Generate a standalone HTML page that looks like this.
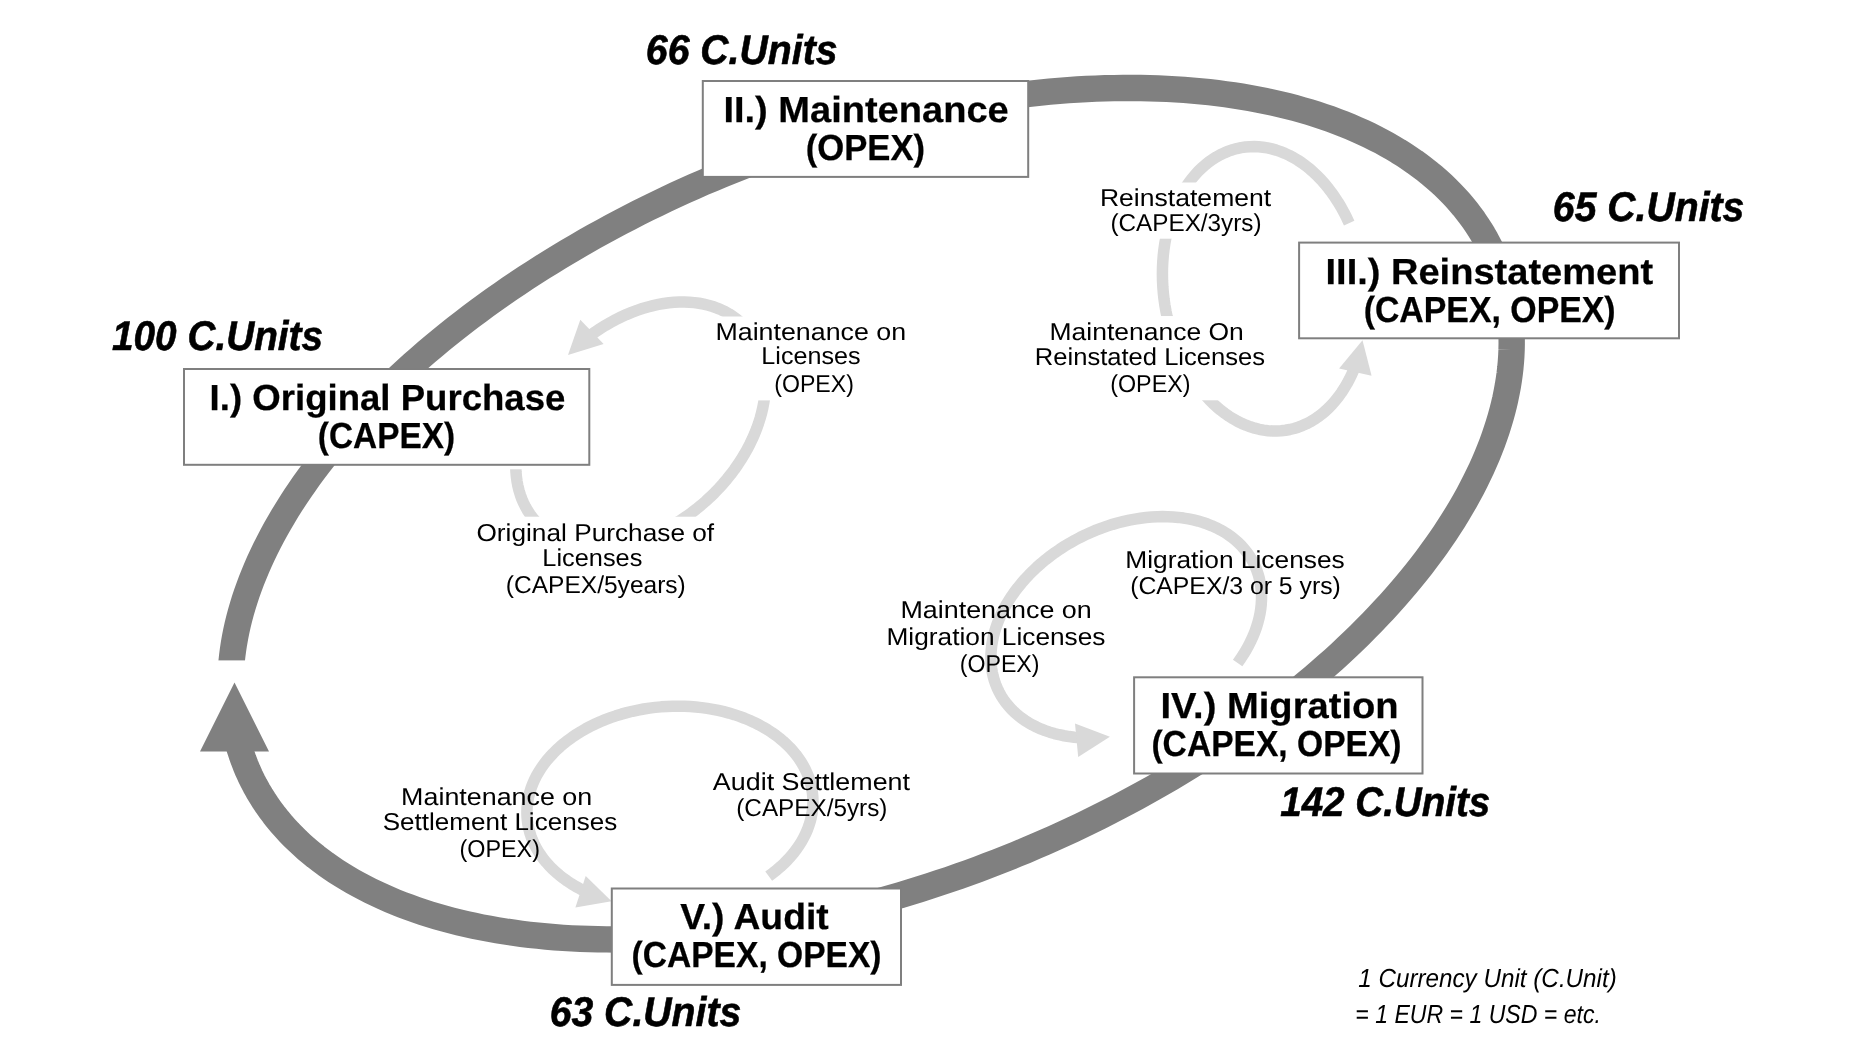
<!DOCTYPE html>
<html lang="en"><head><meta charset="utf-8"><title>License cost cycle</title>
<style>
html,body{margin:0;padding:0;background:#fff;}
body{width:1860px;height:1061px;overflow:hidden;}
svg{display:block;filter:grayscale(1);}
text{font-family:"Liberation Sans",sans-serif;fill:#000;text-rendering:geometricPrecision;}
.b{font-weight:bold;stroke:#000;stroke-width:0.25px;}
.bi{font-weight:bold;font-style:italic;stroke:#000;stroke-width:0.6px;}
.i{font-style:italic;}
</style></head><body>
<svg width="1860" height="1061" viewBox="0 0 1860 1061">
<rect width="1860" height="1061" fill="#fff"/>
<path d="M231.07 667.99 L231.57 661.94 L232.22 655.86 L233.02 649.74 L233.96 643.59 L235.05 637.41 L236.29 631.20 L237.67 624.96 L239.20 618.70 L240.88 612.42 L242.70 606.11 L244.67 599.78 L246.78 593.43 L249.04 587.06 L251.44 580.67 L253.98 574.27 L256.67 567.86 L259.50 561.43 L262.47 554.99 L265.58 548.54 L268.83 542.09 L272.22 535.63 L275.75 529.16 L279.41 522.69 L283.22 516.21 L287.15 509.74 L291.23 503.27 L295.44 496.80 L299.78 490.33 L304.25 483.87 L308.86 477.41 L313.59 470.97 L318.45 464.53 L323.44 458.11 L328.56 451.70 L333.80 445.30 L339.17 438.92 L344.66 432.55 L350.27 426.21 L356.01 419.88 L361.86 413.58 L367.83 407.30 L373.91 401.04 L380.11 394.81 L386.43 388.61 L392.85 382.43 L399.39 376.29 L406.04 370.18 L412.79 364.10 L419.65 358.06 L426.61 352.05 L433.68 346.08 L440.85 340.15 L448.11 334.26 L455.48 328.41 L462.94 322.60 L470.50 316.84 L478.14 311.12 L485.88 305.45 L493.71 299.83 L501.63 294.25 L509.63 288.73 L517.71 283.26 L525.88 277.84 L534.12 272.48 L542.45 267.17 L550.85 261.93 L559.32 256.73 L567.87 251.60 L576.48 246.53 L585.17 241.52 L593.92 236.57 L602.73 231.69 L611.61 226.87 L620.54 222.12 L629.54 217.44 L638.59 212.82 L647.69 208.28 L656.85 203.80 L666.05 199.40 L675.30 195.07 L684.60 190.81 L693.94 186.63 L703.32 182.52 L712.74 178.49 L722.20 174.54 L731.69 170.67 L741.22 166.87 L750.77 163.16 L760.35 159.52 L769.96 155.97 L779.59 152.50 L789.24 149.12 L798.91 145.82 L808.60 142.60 L818.30 139.47 L828.01 136.43 L837.74 133.47 L847.47 130.60 L857.21 127.82 L866.95 125.13 L876.69 122.53 L886.43 120.02 L896.17 117.60 L905.90 115.27 L915.62 113.03 L925.33 110.89 L935.03 108.84 L944.72 106.89 L954.38 105.02 L964.03 103.26 L973.66 101.58 L983.26 100.00 L992.84 98.52 L1002.39 97.14 L1011.91 95.85 L1021.40 94.65 L1030.85 93.56 L1040.26 92.56 L1049.64 91.66 L1058.97 90.85 L1068.26 90.15 L1077.51 89.54 L1086.71 89.03 L1095.85 88.62 L1104.95 88.30 L1113.99 88.09 L1122.98 87.97 L1131.90 87.95 L1140.77 88.03 L1149.58 88.21 L1158.32 88.48 L1166.99 88.86 L1175.60 89.33 L1184.13 89.90 L1192.59 90.57 L1200.98 91.34 L1209.29 92.21 L1217.53 93.17 L1225.68 94.23 L1233.75 95.38 L1241.74 96.64 L1249.64 97.99 L1257.46 99.43 L1265.18 100.97 L1272.82 102.61 L1280.36 104.34 L1287.80 106.17 L1295.15 108.09 L1302.41 110.10 L1309.56 112.21 L1316.61 114.41 L1323.56 116.71 L1330.40 119.09 L1337.14 121.57 L1343.77 124.13 L1350.29 126.79 L1356.70 129.54 L1362.99 132.37 L1369.18 135.30 L1375.25 138.31 L1381.20 141.41 L1387.03 144.59 L1392.74 147.86 L1398.34 151.21 L1403.81 154.65 L1409.16 158.17 L1414.38 161.77 L1419.48 165.46 L1424.45 169.22 L1429.30 173.07 L1434.01 176.99 L1438.60 180.99 L1443.05 185.07 L1447.37 189.22 L1451.56 193.45 L1455.61 197.75 L1459.53 202.13 L1463.31 206.58 L1466.96 211.10 L1470.47 215.68 L1473.83 220.34 L1477.06 225.07 L1480.15 229.86 L1483.10 234.72 L1485.91 239.64 L1488.57 244.63 L1491.10 249.68 L1493.48 254.78 L1495.71 259.95 L1497.80 265.18 L1499.75 270.47 L1501.55 275.81 L1503.20 281.20 L1504.71 286.65 L1506.07 292.16 L1507.29 297.71 L1508.35 303.31 L1509.27 308.97 L1510.05 314.67 L1510.67 320.41 L1511.15 326.20 L1511.48 332.04 L1511.66 337.91 L1511.69 343.83 L1511.58 349.79 L1511.32 355.78 L1510.90 361.81 L1510.35 367.87 L1509.64 373.97 L1508.78 380.11 L1507.78 386.27 L1506.63 392.46 L1505.34 398.68 L1503.89 404.93 L1502.30 411.20 L1500.57 417.49 L1498.69 423.81 L1496.66 430.15 L1494.49 436.51 L1492.18 442.88 L1489.72 449.27 L1487.12 455.68 L1484.37 462.10 L1481.49 468.53 L1478.46 474.97 L1475.30 481.42 L1471.99 487.88 L1468.54 494.35 L1464.96 500.82 L1461.24 507.29 L1457.38 513.76 L1453.39 520.24 L1449.26 526.71 L1445.00 533.18 L1440.60 539.64 L1436.08 546.10 L1431.42 552.55 L1426.63 559.00 L1421.72 565.43 L1416.68 571.85 L1411.51 578.25 L1406.22 584.64 L1400.80 591.02 L1395.26 597.38 L1389.60 603.71 L1383.82 610.03 L1377.92 616.33 L1371.90 622.60 L1365.77 628.84 L1359.53 635.06 L1353.17 641.25 L1346.70 647.41 L1340.12 653.55 L1333.43 659.64 L1326.63 665.71 L1319.73 671.74 L1312.72 677.73 L1305.62 683.69 L1298.41 689.60 L1291.10 695.48 L1283.70 701.31 L1276.20 707.10 L1268.61 712.84 L1260.92 718.54 L1253.15 724.19 L1245.28 729.80 L1237.33 735.35 L1229.30 740.85 L1221.18 746.30 L1212.98 751.69 L1204.71 757.03 L1196.35 762.32 L1187.92 767.54 L1179.42 772.71 L1170.85 777.82 L1162.20 782.87 L1153.49 787.85 L1144.72 792.77 L1135.88 797.63 L1126.98 802.42 L1118.02 807.14 L1109.00 811.80 L1099.93 816.39 L1090.80 820.91 L1081.63 825.35 L1072.40 829.73 L1063.13 834.03 L1053.82 838.25 L1044.46 842.41 L1035.06 846.48 L1025.63 850.48 L1016.16 854.40 L1006.65 858.25 L997.11 862.01 L987.55 865.69 L977.96 869.29 L968.34 872.81 L958.70 876.25 L949.04 879.60 L939.36 882.86 L929.67 886.05 L919.96 889.14 L910.24 892.15 L900.52 895.07 L890.78 897.91 L881.04 900.65 L871.30 903.30 L861.56 905.87 L851.82 908.34 L842.09 910.73 L832.36 913.02 L822.64 915.22 L812.93 917.32 L803.24 919.33 L793.56 921.25 L783.90 923.08 L774.26 924.81 L764.64 926.44 L755.05 927.98 L745.48 929.43 L735.95 930.77 L726.44 932.02 L716.97 933.18 L707.53 934.24 L698.13 935.20 L688.77 936.06 L679.45 936.82 L670.18 937.49 L660.95 938.06 L651.78 938.53 L642.65 938.90 L633.58 939.18 L624.56 939.35 L615.59 939.43 L606.69 939.41 L597.85 939.29 L589.07 939.07 L580.36 938.76 L571.71 938.34 L563.13 937.83 L554.63 937.22 L546.19 936.51 L537.83 935.70 L529.55 934.80 L521.35 933.80 L513.23 932.70 L505.19 931.51 L497.24 930.21 L489.37 928.83 L481.59 927.34 L473.90 925.76 L466.31 924.09 L458.80 922.32 L451.40 920.45 L444.08 918.49 L436.87 916.44 L429.76 914.30 L422.75 912.06 L415.84 909.73 L409.04 907.31 L402.35 904.79 L395.76 902.19 L389.29 899.50 L382.92 896.71 L376.67 893.84 L370.53 890.89 L364.51 887.84 L358.61 884.71 L352.82 881.49 L347.16 878.19 L341.61 874.80 L336.19 871.33 L330.89 867.77 L325.72 864.14 L320.67 860.42 L315.75 856.63 L310.96 852.75 L306.29 848.80 L301.76 844.76 L297.36 840.66 L293.09 836.47 L288.96 832.21 L284.96 827.88 L281.10 823.48 L277.37 819.00 L273.78 814.45 L270.33 809.83 L267.01 805.15 L263.84 800.40 L260.81 795.58 L257.91 790.69 L255.16 785.75 L252.56 780.73 L250.09 775.66 L247.77 770.53 L245.59 765.34 L243.56 760.09 L241.67 754.78 L239.93 749.41 L238.34 744.00" fill="none" stroke="#808080" stroke-width="26.4" stroke-linejoin="round"/>
<rect x="195" y="660.4" width="90" height="90.2" fill="#fff"/>
<polygon points="234.5,682.4 200,751.6 269,751.6" fill="#808080"/>
<path d="M515.83 461.87 L515.78 466.84 L515.96 471.73 L516.37 476.54 L517.01 481.24 L517.88 485.84 L518.98 490.33 L520.30 494.69 L521.84 498.93 L523.60 503.03 L525.58 506.98 L527.77 510.78 L530.17 514.42 L532.78 517.89 L535.58 521.19 L538.58 524.31 L541.76 527.25 L545.13 529.99 L548.67 532.55 L552.39 534.90 L556.27 537.04 L560.30 538.98 L564.48 540.71 L568.80 542.22 L573.26 543.51 L577.84 544.59 L582.54 545.44 L587.34 546.06 L592.24 546.47 L597.23 546.64 L602.30 546.59 L607.45 546.32 L612.65 545.82 L617.90 545.09 L623.20 544.14 L628.53 542.97 L633.88 541.58 L639.25 539.98 L644.61 538.16 L649.97 536.13 L655.31 533.89 L660.63 531.45 L665.91 528.81 L671.14 525.98 L676.31 522.96 L681.42 519.76 L686.45 516.39 L691.40 512.84 L696.26 509.13 L701.01 505.26 L705.65 501.25 L710.17 497.09 L714.56 492.79 L718.82 488.37 L722.93 483.84 L726.88 479.19 L730.68 474.44 L734.32 469.60 L737.77 464.67 L741.05 459.67 L744.15 454.60 L747.05 449.48 L749.76 444.31 L752.26 439.11 L754.56 433.88 L756.65 428.63 L758.52 423.37 L760.18 418.11 L761.61 412.87 L762.82 407.64 L763.81 402.45 L764.56 397.30 L765.09 392.20 L765.39 387.15 L765.46 382.18 L765.30 377.28 L764.90 372.47 L764.28 367.76 L763.43 363.15 L762.35 358.65 L761.04 354.28 L759.52 350.03 L757.77 345.93 L755.81 341.96 L753.64 338.15 L751.25 334.50 L748.66 331.01 L745.87 327.70 L742.89 324.57 L739.72 321.62 L736.37 318.86 L732.83 316.29 L729.13 313.92 L725.27 311.76 L721.24 309.81 L717.07 308.07 L712.76 306.54 L708.31 305.23 L703.74 304.14 L699.06 303.27 L694.26 302.63 L689.37 302.21 L684.38 302.02 L679.32 302.05 L674.18 302.31 L668.98 302.79 L663.73 303.50 L658.43 304.43 L653.11 305.59 L647.76 306.96 L642.39 308.55 L637.03 310.35 L631.67 312.37 L626.32 314.59 L621.01 317.01 L615.72 319.64 L610.49 322.45 L605.31 325.46 L600.20 328.64 L595.16 332.01 L590.20 335.54" fill="none" stroke="#d9d9d9" stroke-width="11.5" stroke-linejoin="round"/>
<polygon points="568.0,355.0 580.3,319.8 603.6,343.9" fill="#d9d9d9"/>
<rect x="500" y="455" width="40" height="14.3" fill="#fff"/>
<path d="M1349.17 223.10 L1346.65 217.70 L1343.97 212.42 L1341.14 207.30 L1338.17 202.32 L1335.06 197.51 L1331.81 192.87 L1328.44 188.41 L1324.95 184.14 L1321.35 180.06 L1317.63 176.19 L1313.82 172.54 L1309.92 169.10 L1305.92 165.88 L1301.85 162.90 L1297.71 160.15 L1293.51 157.65 L1289.25 155.39 L1284.95 153.38 L1280.60 151.63 L1276.23 150.13 L1271.83 148.90 L1267.42 147.92 L1263.00 147.22 L1258.59 146.78 L1254.18 146.60 L1249.80 146.69 L1245.44 147.05 L1241.12 147.68 L1236.84 148.57 L1232.61 149.73 L1228.45 151.15 L1224.35 152.82 L1220.32 154.75 L1216.38 156.94 L1212.53 159.37 L1208.77 162.04 L1205.12 164.96 L1201.58 168.10 L1198.16 171.47 L1194.86 175.07 L1191.69 178.87 L1188.66 182.89 L1185.78 187.10 L1183.04 191.50 L1180.45 196.09 L1178.02 200.85 L1175.75 205.78 L1173.65 210.86 L1171.72 216.09 L1169.96 221.45 L1168.38 226.95 L1166.98 232.55 L1165.76 238.27 L1164.73 244.08 L1163.89 249.97 L1163.23 255.94 L1162.76 261.96 L1162.49 268.04 L1162.41 274.16 L1162.51 280.31 L1162.81 286.47 L1163.30 292.63 L1163.98 298.79 L1164.85 304.93 L1165.91 311.04 L1167.15 317.11 L1168.57 323.12 L1170.17 329.07 L1171.95 334.95 L1173.90 340.73 L1176.03 346.42 L1178.32 352.00 L1180.77 357.47 L1183.37 362.80 L1186.13 368.00 L1189.04 373.04 L1192.09 377.93 L1195.27 382.65 L1198.58 387.19 L1202.02 391.55 L1205.58 395.72 L1209.24 399.68 L1213.01 403.44 L1216.87 406.98 L1220.82 410.30 L1224.86 413.39 L1228.97 416.25 L1233.14 418.86 L1237.38 421.24 L1241.66 423.36 L1245.99 425.23 L1250.35 426.85 L1254.74 428.20 L1259.15 429.29 L1263.56 430.12 L1267.98 430.69 L1272.39 430.98 L1276.78 431.01 L1281.15 430.78 L1285.49 430.27 L1289.79 429.50 L1294.04 428.47 L1298.24 427.17 L1302.37 425.61 L1306.43 423.80 L1310.41 421.73 L1314.31 419.41 L1318.11 416.85 L1321.81 414.04 L1325.40 411.00 L1328.88 407.74 L1332.23 404.24 L1335.46 400.53 L1338.55 396.61 L1341.51 392.49 L1344.32 388.18 L1346.98 383.67 L1349.48 378.99 L1351.82 374.14 L1354.00 369.13" fill="none" stroke="#d9d9d9" stroke-width="11.5" stroke-linejoin="round"/>
<polygon points="1362.5,340.2 1339.1,368.5 1371.6,375.8" fill="#d9d9d9"/>
<path d="M1237.63 662.98 L1240.71 658.61 L1243.59 654.20 L1246.28 649.74 L1248.76 645.23 L1251.03 640.70 L1253.08 636.15 L1254.92 631.58 L1256.54 627.00 L1257.93 622.43 L1259.10 617.86 L1260.05 613.31 L1260.76 608.78 L1261.24 604.28 L1261.50 599.83 L1261.52 595.42 L1261.31 591.06 L1260.87 586.77 L1260.19 582.54 L1259.29 578.40 L1258.17 574.33 L1256.81 570.36 L1255.23 566.48 L1253.44 562.71 L1251.42 559.05 L1249.19 555.51 L1246.75 552.08 L1244.10 548.79 L1241.26 545.63 L1238.21 542.61 L1234.97 539.74 L1231.55 537.01 L1227.95 534.45 L1224.17 532.03 L1220.23 529.79 L1216.12 527.70 L1211.86 525.79 L1207.46 524.06 L1202.91 522.50 L1198.24 521.11 L1193.44 519.91 L1188.53 518.90 L1183.51 518.07 L1178.39 517.42 L1173.18 516.97 L1167.89 516.70 L1162.53 516.62 L1157.11 516.74 L1151.64 517.04 L1146.12 517.53 L1140.57 518.20 L1134.99 519.07 L1129.40 520.12 L1123.81 521.35 L1118.21 522.76 L1112.63 524.35 L1107.08 526.12 L1101.56 528.06 L1096.08 530.17 L1090.65 532.45 L1085.28 534.89 L1079.98 537.49 L1074.76 540.24 L1069.63 543.14 L1064.60 546.18 L1059.67 549.37 L1054.85 552.68 L1050.16 556.13 L1045.60 559.69 L1041.17 563.37 L1036.89 567.16 L1032.77 571.06 L1028.80 575.05 L1025.00 579.13 L1021.37 583.29 L1017.92 587.53 L1014.66 591.83 L1011.59 596.20 L1008.72 600.61 L1006.04 605.08 L1003.57 609.58 L1001.31 614.11 L999.27 618.67 L997.44 623.24 L995.83 627.82 L994.45 632.39 L993.29 636.96 L992.36 641.51 L991.65 646.04 L991.18 650.53 L990.94 654.99 L990.93 659.39 L991.15 663.75 L991.60 668.04 L992.28 672.26 L993.20 676.40 L994.33 680.46 L995.70 684.43 L997.29 688.30 L999.10 692.07 L1001.12 695.72 L1003.36 699.26 L1005.81 702.68 L1008.47 705.96 L1011.33 709.12 L1014.38 712.13 L1017.62 715.00 L1021.06 717.71 L1024.67 720.28 L1028.45 722.68 L1032.40 724.92 L1036.52 726.99 L1040.78 728.90 L1045.19 730.62 L1049.74 732.18 L1054.43 733.55 L1059.23 734.74 L1064.15 735.75 L1069.17 736.57 L1074.30 737.20 L1079.51 737.65" fill="none" stroke="#d9d9d9" stroke-width="11.5" stroke-linejoin="round"/>
<polygon points="1109.9,736.7 1075.0,723.4 1078.2,756.9" fill="#d9d9d9"/>
<path d="M768.70 876.16 L772.83 873.11 L776.78 869.96 L780.56 866.70 L784.16 863.34 L787.57 859.89 L790.78 856.35 L793.79 852.73 L796.60 849.03 L799.20 845.27 L801.58 841.44 L803.75 837.55 L805.69 833.62 L807.41 829.64 L808.90 825.62 L810.17 821.57 L811.20 817.50 L811.99 813.41 L812.55 809.31 L812.88 805.20 L812.97 801.10 L812.82 797.01 L812.43 792.94 L811.81 788.89 L810.96 784.86 L809.87 780.88 L808.55 776.94 L807.00 773.05 L805.22 769.21 L803.22 765.44 L801.00 761.74 L798.56 758.11 L795.91 754.56 L793.05 751.10 L789.99 747.73 L786.72 744.46 L783.27 741.30 L779.62 738.24 L775.80 735.29 L771.80 732.47 L767.63 729.77 L763.30 727.20 L758.81 724.75 L754.18 722.45 L749.41 720.28 L744.51 718.26 L739.48 716.39 L734.34 714.66 L729.09 713.09 L723.74 711.68 L718.31 710.42 L712.79 709.32 L707.21 708.38 L701.56 707.61 L695.86 707.00 L690.12 706.56 L684.34 706.28 L678.54 706.17 L672.72 706.23 L666.90 706.46 L661.09 706.85 L655.29 707.40 L649.51 708.12 L643.77 709.01 L638.07 710.06 L632.43 711.26 L626.85 712.63 L621.33 714.15 L615.90 715.83 L610.56 717.66 L605.31 719.63 L600.18 721.75 L595.16 724.02 L590.26 726.42 L585.49 728.95 L580.87 731.61 L576.39 734.40 L572.06 737.30 L567.90 740.32 L563.91 743.46 L560.09 746.70 L556.45 750.03 L553.01 753.47 L549.75 756.99 L546.70 760.59 L543.85 764.27 L541.20 768.02 L538.77 771.84 L536.56 775.71 L534.57 779.64 L532.80 783.61 L531.26 787.62 L529.95 791.66 L528.87 795.73 L528.02 799.82 L527.41 803.92 L527.04 808.02 L526.90 812.12 L527.00 816.22 L527.33 820.30 L527.90 824.35 L528.71 828.38 L529.75 832.37 L531.02 836.32 L532.52 840.23 L534.25 844.07 L536.21 847.86 L538.38 851.58 L540.77 855.22 L543.38 858.79 L546.20 862.27 L549.22 865.66 L552.44 868.95 L555.85 872.14 L559.46 875.22 L563.25 878.19 L567.21 881.04 L571.34 883.76 L575.64 886.36 L580.09 888.83 L584.69 891.17" fill="none" stroke="#d9d9d9" stroke-width="11.5" stroke-linejoin="round"/>
<polygon points="611.6,901.2 585.7,876.0 575.4,907.6" fill="#d9d9d9"/>
<rect x="706" y="316.5" width="209" height="83.89999999999998" fill="#fff"/>
<rect x="470" y="516.7" width="252" height="86.29999999999995" fill="#fff"/>
<rect x="1092" y="182.5" width="188" height="56.19999999999999" fill="#fff"/>
<rect x="1028" y="316.05" width="244" height="84.25" fill="#fff"/>
<rect x="184.0" y="369.0" width="405.3" height="95.8" fill="#fff" stroke="#7f7f7f" stroke-width="2"/>
<rect x="702.8" y="81.0" width="325.4" height="95.9" fill="#fff" stroke="#7f7f7f" stroke-width="2"/>
<rect x="1299.1" y="242.6" width="379.9" height="95.7" fill="#fff" stroke="#7f7f7f" stroke-width="2"/>
<rect x="1134.1" y="677.3" width="288.4" height="96.2" fill="#fff" stroke="#7f7f7f" stroke-width="2"/>
<rect x="611.8" y="888.5" width="289.2" height="96.4" fill="#fff" stroke="#7f7f7f" stroke-width="2"/>
<text x="209.61" y="409.9" font-size="36.3" class="b" textLength="355.77" lengthAdjust="spacingAndGlyphs">I.) Original Purchase</text>
<text x="317.85" y="447.9" font-size="36.3" class="b" textLength="137.35" lengthAdjust="spacingAndGlyphs">(CAPEX)</text>
<text x="723.42" y="121.9" font-size="36.3" class="b" textLength="285.28" lengthAdjust="spacingAndGlyphs">II.) Maintenance</text>
<text x="805.64" y="159.9" font-size="36.3" class="b" textLength="119.47" lengthAdjust="spacingAndGlyphs">(OPEX)</text>
<text x="1325.52" y="283.5" font-size="36.3" class="b" textLength="327.55" lengthAdjust="spacingAndGlyphs">III.) Reinstatement</text>
<text x="1363.63" y="321.5" font-size="36.3" class="b" textLength="252.02" lengthAdjust="spacingAndGlyphs">(CAPEX, OPEX)</text>
<text x="1160.51" y="718.2" font-size="36.3" class="b" textLength="238.16" lengthAdjust="spacingAndGlyphs">IV.) Migration</text>
<text x="1151.44" y="756.2" font-size="36.3" class="b" textLength="250.09" lengthAdjust="spacingAndGlyphs">(CAPEX, OPEX)</text>
<text x="680.32" y="929.1" font-size="36.3" class="b" textLength="148.33" lengthAdjust="spacingAndGlyphs">V.) Audit</text>
<text x="631.54" y="967.1" font-size="36.3" class="b" textLength="249.99" lengthAdjust="spacingAndGlyphs">(CAPEX, OPEX)</text>
<text x="112.00" y="349.7" font-size="41.5" class="bi" textLength="211.05" lengthAdjust="spacingAndGlyphs">100 C.Units</text>
<text x="645.85" y="63.6" font-size="41.5" class="bi" textLength="191.65" lengthAdjust="spacingAndGlyphs">66 C.Units</text>
<text x="1552.85" y="220.7" font-size="41.5" class="bi" textLength="191.55" lengthAdjust="spacingAndGlyphs">65 C.Units</text>
<text x="1280.20" y="815.8" font-size="41.5" class="bi" textLength="210.14" lengthAdjust="spacingAndGlyphs">142 C.Units</text>
<text x="549.65" y="1025.7" font-size="41.5" class="bi" textLength="191.65" lengthAdjust="spacingAndGlyphs">63 C.Units</text>
<text x="1358.20" y="986.9" font-size="26" class="i" textLength="258.61" lengthAdjust="spacingAndGlyphs">1 Currency Unit (C.Unit)</text>
<text x="1355.32" y="1022.8" font-size="26" class="i" textLength="245.54" lengthAdjust="spacingAndGlyphs">= 1 EUR = 1 USD = etc.</text>
<text x="715.41" y="339.6" font-size="24.4" class="r" textLength="190.76" lengthAdjust="spacingAndGlyphs">Maintenance on</text>
<text x="761.33" y="364.4" font-size="24.4" class="r" textLength="99.27" lengthAdjust="spacingAndGlyphs">Licenses</text>
<text x="774.21" y="392.4" font-size="24.4" class="r" textLength="79.69" lengthAdjust="spacingAndGlyphs">(OPEX)</text>
<text x="476.46" y="540.7" font-size="24.4" class="r" textLength="237.69" lengthAdjust="spacingAndGlyphs">Original Purchase of</text>
<text x="542.32" y="565.6" font-size="24.4" class="r" textLength="99.99" lengthAdjust="spacingAndGlyphs">Licenses</text>
<text x="505.82" y="593.4" font-size="24.4" class="r" textLength="179.97" lengthAdjust="spacingAndGlyphs">(CAPEX/5years)</text>
<text x="1099.92" y="205.8" font-size="24.4" class="r" textLength="171.30" lengthAdjust="spacingAndGlyphs">Reinstatement</text>
<text x="1110.43" y="230.9" font-size="24.4" class="r" textLength="151.11" lengthAdjust="spacingAndGlyphs">(CAPEX/3yrs)</text>
<text x="1049.53" y="339.9" font-size="24.4" class="r" textLength="194.30" lengthAdjust="spacingAndGlyphs">Maintenance On</text>
<text x="1034.80" y="364.9" font-size="24.4" class="r" textLength="230.28" lengthAdjust="spacingAndGlyphs">Reinstated Licenses</text>
<text x="1110.20" y="392.3" font-size="24.4" class="r" textLength="80.31" lengthAdjust="spacingAndGlyphs">(OPEX)</text>
<text x="1125.24" y="568.4" font-size="24.4" class="r" textLength="219.56" lengthAdjust="spacingAndGlyphs">Migration Licenses</text>
<text x="1130.20" y="593.9" font-size="24.4" class="r" textLength="210.59" lengthAdjust="spacingAndGlyphs">(CAPEX/3 or 5 yrs)</text>
<text x="900.40" y="618.4" font-size="24.4" class="r" textLength="191.37" lengthAdjust="spacingAndGlyphs">Maintenance on</text>
<text x="886.45" y="644.5" font-size="24.4" class="r" textLength="219.06" lengthAdjust="spacingAndGlyphs">Migration Licenses</text>
<text x="959.71" y="671.5" font-size="24.4" class="r" textLength="79.79" lengthAdjust="spacingAndGlyphs">(OPEX)</text>
<text x="712.85" y="790.4" font-size="24.4" class="r" textLength="197.19" lengthAdjust="spacingAndGlyphs">Audit Settlement</text>
<text x="736.28" y="815.8" font-size="24.4" class="r" textLength="151.11" lengthAdjust="spacingAndGlyphs">(CAPEX/5yrs)</text>
<text x="401.10" y="804.6" font-size="24.4" class="r" textLength="191.16" lengthAdjust="spacingAndGlyphs">Maintenance on</text>
<text x="382.66" y="830.1" font-size="24.4" class="r" textLength="234.53" lengthAdjust="spacingAndGlyphs">Settlement Licenses</text>
<text x="459.49" y="857.3" font-size="24.4" class="r" textLength="80.52" lengthAdjust="spacingAndGlyphs">(OPEX)</text>
</svg>
</body></html>
